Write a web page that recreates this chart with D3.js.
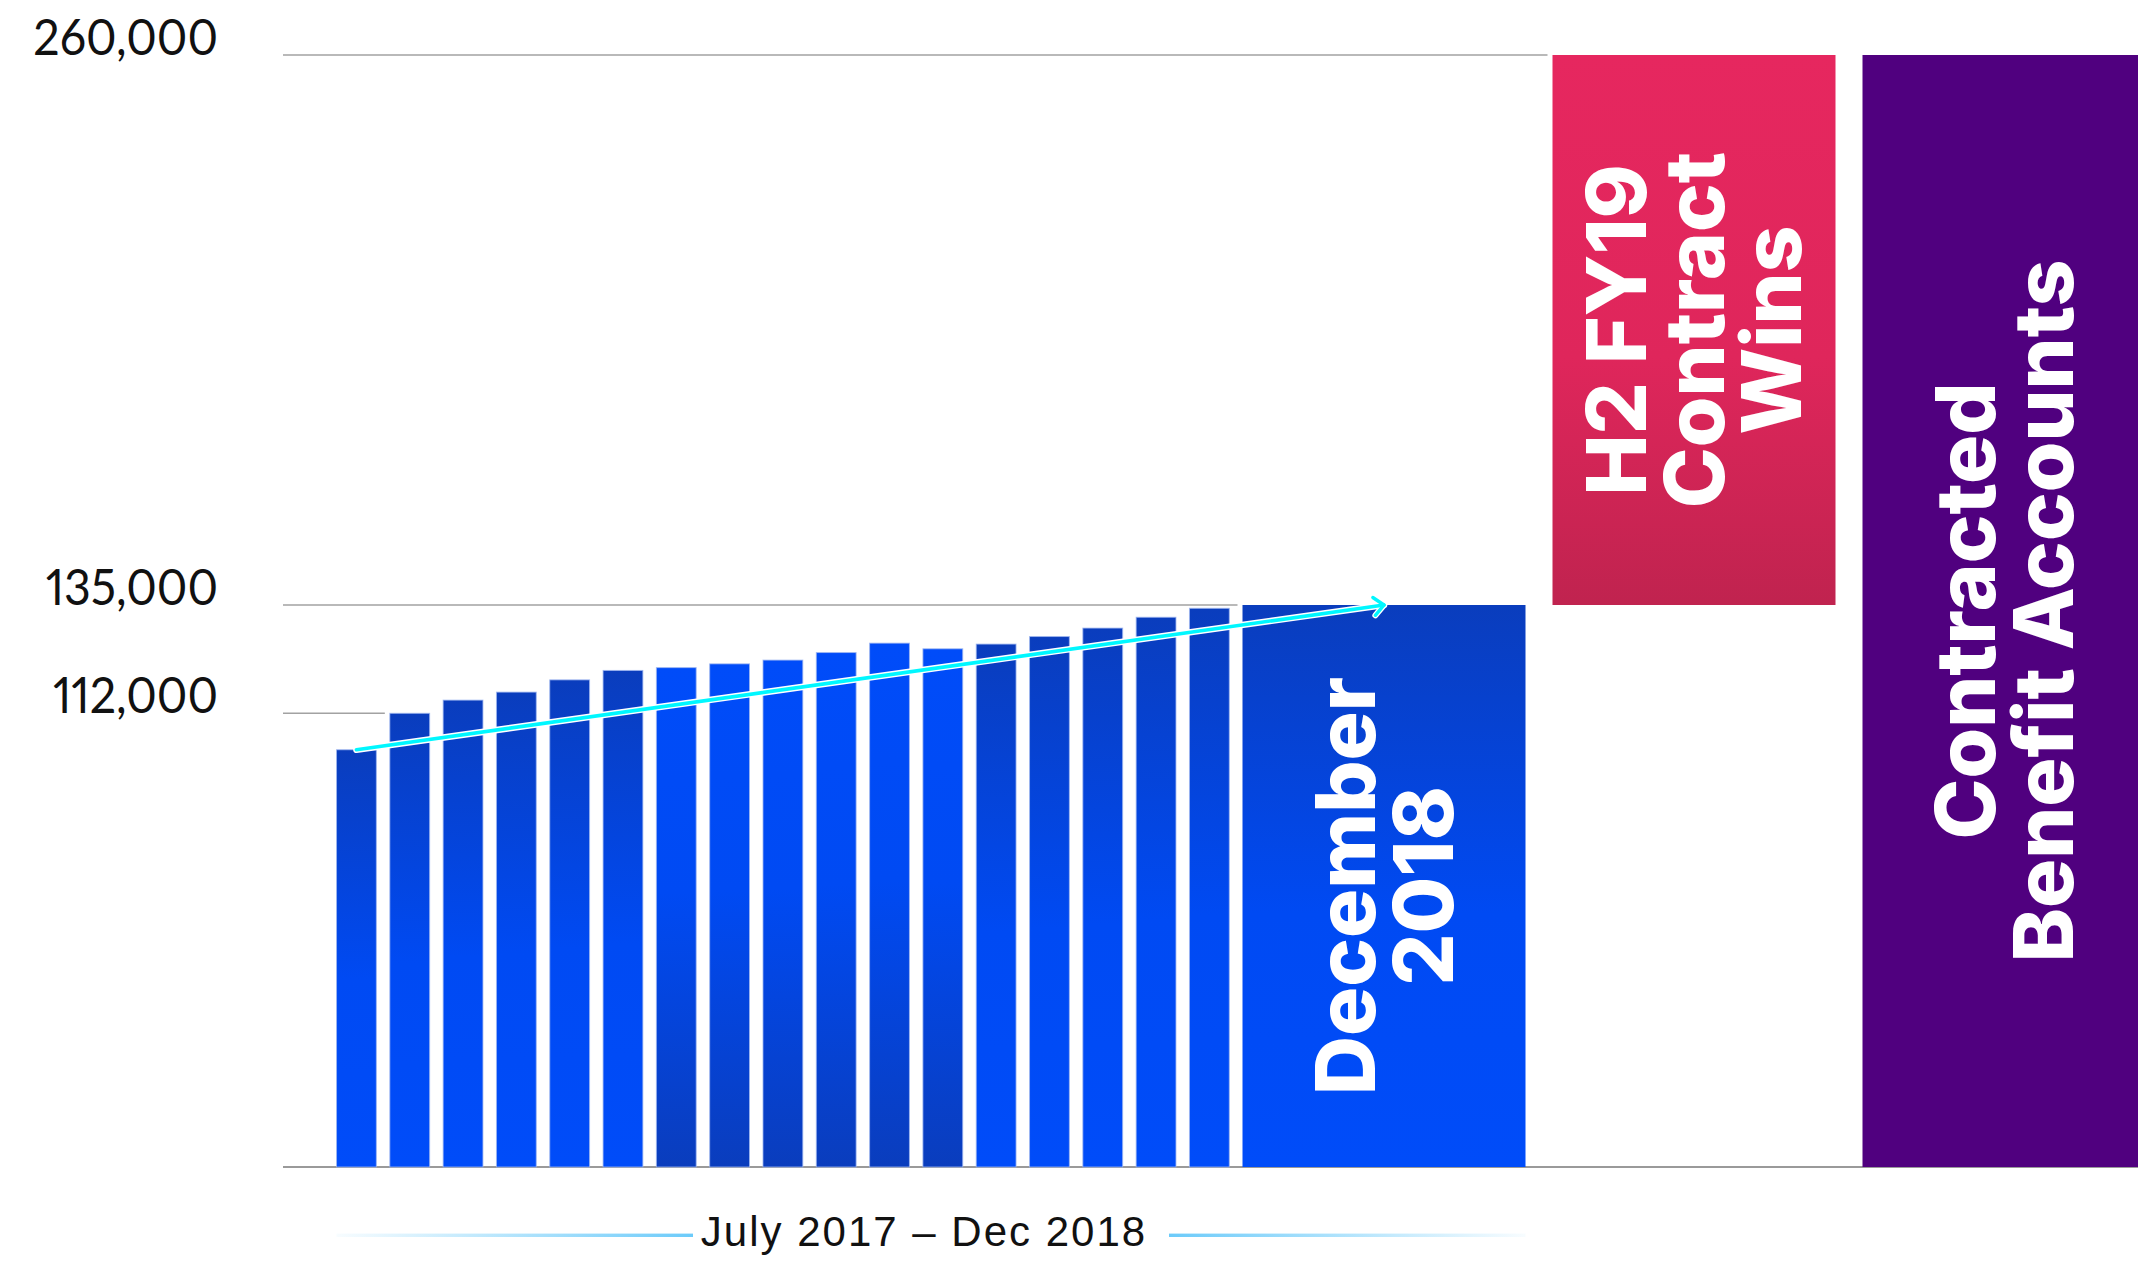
<!DOCTYPE html>
<html>
<head>
<meta charset="utf-8">
<script src="https://cdn.jsdelivr.net/npm/d3@7"></script>
<style>
  html, body { margin: 0; padding: 0; background: #fff; }
  svg { display: block; }
</style>
</head>
<body>
<svg id="chart" width="2138" height="1265"></svg>
<script>
// Monthly benefit accounts, July 2017 – November 2018
const months = ["Jul 2017", "Aug 2017", "Sep 2017", "Oct 2017", "Nov 2017", "Dec 2017",
                "Jan 2018", "Feb 2018", "Mar 2018", "Apr 2018", "May 2018", "Jun 2018",
                "Jul 2018", "Aug 2018", "Sep 2018", "Oct 2018", "Nov 2018"];
const accounts = [103000, 112000, 114800, 116500, 119100, 121100,
                  121700, 122500, 123300, 124900, 126900, 125700,
                  126700, 128300, 130100, 132400, 134300];

// Summary columns: December 2018 level, new contract wins stacked on it, contracted total
const summaryNames = ["December 2018", "H2 FY19 Contract Wins", "Contracted Benefit Accounts"];
const summaryLines = [["December", "2018"], ["H2 FY19", "Contract", "Wins"], ["Contracted", "Benefit Accounts"]];
const december2018 = 135000;
const contractWins = 125000;
const contractedTotal = 260000;

// Axis labels
const tickValues = [260000, 135000, 112000];
const periodLabel = "July 2017 \u2013 Dec 2018";

const W = 2138, H = 1265;
const plotLeft = 283;
const svg = d3.select("#chart");

// The value axis is drawn piecewise so the monthly band is stretched out
const y = d3.scaleLinear()
  .domain([0, 112000, 135000, 260000])
  .range([1167, 713.3, 605, 55]);
const baseY = y(0);

const xMonth = d3.scaleBand()
  .domain(months)
  .range([329.8, 1236])
  .paddingInner(0.253)
  .paddingOuter(0.126);

const xSummary = d3.scaleBand()
  .domain(summaryNames)
  .range([1242.5, 2145.5])
  .paddingInner(0.0871)
  .paddingOuter(0);

// ---------- gradients ----------
const defs = svg.append("defs");
function vGrad(id, stops) {
  const g = defs.append("linearGradient").attr("id", id)
    .attr("x1", 0).attr("y1", 0).attr("x2", 0).attr("y2", 1);
  stops.forEach(s => g.append("stop").attr("offset", s[0]).attr("stop-color", s[1]));
}
vGrad("blueDown", [[0, "#0a3dbd"], [0.55, "#004af3"], [1, "#004cf9"]]);
vGrad("blueUp", [[0, "#004cf9"], [0.45, "#004af3"], [1, "#0a3dbd"]]);
vGrad("pinkFill", [[0, "#e6275f"], [0.55, "#df265b"], [1, "#c0234f"]]);

function hGrad(id, fromOpacity, toOpacity) {
  const g = defs.append("linearGradient").attr("id", id)
    .attr("x1", 0).attr("y1", 0).attr("x2", 1).attr("y2", 0);
  g.append("stop").attr("offset", 0).attr("stop-color", "#6ccbfa").attr("stop-opacity", fromOpacity);
  g.append("stop").attr("offset", 1).attr("stop-color", "#6ccbfa").attr("stop-opacity", toOpacity);
}
hGrad("fadeLeft", 0.05, 1);
hGrad("fadeRight", 1, 0.05);

// arrow head for the trend line
function chevron(id, color, width) {
  const m = defs.append("marker").attr("id", id)
    .attr("markerUnits", "userSpaceOnUse")
    .attr("viewBox", "-20 -20 40 40")
    .attr("markerWidth", 40).attr("markerHeight", 40)
    .attr("refX", 0).attr("refY", 0)
    .attr("orient", "auto")
    .attr("overflow", "visible");
  m.append("path").attr("d", "M-10,-9 L0,0 L-10,9")
    .attr("fill", "none").attr("stroke", color).attr("stroke-width", width)
    .attr("stroke-linecap", "round").attr("stroke-linejoin", "round");
}
chevron("headHalo", "#ffffff", 6);
chevron("headCore", "#00f7ff", 3.4);

// ---------- bar lookup used for grid-line extents ----------
const allBars = months.map((m, i) => ({ x: xMonth(m), top: accounts[i] }))
  .concat([
    { x: xSummary(summaryNames[0]), top: december2018 },
    { x: xSummary(summaryNames[1]), top: december2018 + contractWins },
    { x: xSummary(summaryNames[2]), top: contractedTotal }
  ]);

// ---------- grid lines and tick labels ----------
const grid = svg.append("g");
tickValues.forEach(v => {
  const stop = allBars.find(b => b.top >= v);
  grid.append("line")
    .attr("x1", plotLeft).attr("x2", stop.x - 5)
    .attr("y1", y(v)).attr("y2", y(v))
    .attr("stroke", "#a2a2a2").attr("stroke-width", 1.5);
});
grid.append("line")
  .attr("x1", plotLeft).attr("x2", W)
  .attr("y1", baseY).attr("y2", baseY)
  .attr("stroke", "#9a9a9a").attr("stroke-width", 2);

svg.append("g").selectAll("text")
  .data(tickValues)
  .join("text")
  .attr("transform", d => `translate(218,${y(d)}) scale(0.94,1)`)
  .attr("text-anchor", "end")
  .attr("font-family", "Lato, 'Liberation Sans', sans-serif")
  .attr("font-size", 49.5)
  .attr("fill", "#111")
  .style("font-variant-numeric", "proportional-nums")
  .text(d => d3.format(",")(d));

// ---------- monthly bars ----------
const parseMonth = d3.timeParse("%b %Y");
svg.append("g").selectAll("rect")
  .data(months.map((m, i) => ({ m, v: accounts[i] })))
  .join("rect")
  .attr("x", d => xMonth(d.m))
  .attr("y", d => y(d.v))
  .attr("width", xMonth.bandwidth())
  .attr("height", d => baseY - y(d.v))
  .attr("fill", d => parseMonth(d.m).getMonth() < 6 ? "url(#blueUp)" : "url(#blueDown)")
  .attr("stroke", "#9fb6f0")
  .attr("stroke-opacity", 0.8)
  .attr("stroke-width", 1);

// ---------- summary columns ----------
const bw = xSummary.bandwidth();
const summaryBars = [
  { name: summaryNames[0], lines: summaryLines[0], lo: 0, hi: december2018, fill: "url(#blueDown)" },
  { name: summaryNames[1], lines: summaryLines[1], lo: december2018, hi: december2018 + contractWins, fill: "url(#pinkFill)" },
  { name: summaryNames[2], lines: summaryLines[2], lo: 0, hi: contractedTotal, fill: "#50007f" }
];
svg.append("g").selectAll("rect")
  .data(summaryBars)
  .join("rect")
  .attr("x", d => xSummary(d.name))
  .attr("y", d => y(d.hi))
  .attr("width", bw)
  .attr("height", d => y(d.lo) - y(d.hi))
  .attr("fill", d => d.fill);

// rotated white labels inside the summary columns
const fontSize = 82, lineH = 77.6, capH = fontSize * 0.727;
summaryBars.forEach(d => {
  const cx = xSummary(d.name) + bw / 2;
  const cy = (y(d.lo) + y(d.hi)) / 2;
  const blockH = capH + (d.lines.length - 1) * lineH;
  const t = svg.append("text")
    .attr("transform", `translate(${cx},${cy}) rotate(-90)`)
    .attr("text-anchor", "middle")
    .attr("font-family", "Inter, 'Noto Sans', sans-serif")
    .attr("font-weight", 800)
    .attr("font-size", fontSize)
    .attr("fill", "#fff");
  d.lines.forEach((ln, i) => {
    t.append("tspan")
      .attr("x", 0)
      .attr("y", -blockH / 2 + capH + i * lineH)
      .text(ln);
  });
});

// ---------- trend arrow ----------
const x0 = xMonth(months[0]) + xMonth.bandwidth() / 2;
const y0 = y(accounts[0]);
const x1 = xSummary(summaryNames[0]) + bw / 2;
const y1 = y(december2018);
svg.append("line")
  .attr("x1", x0).attr("y1", y0).attr("x2", x1).attr("y2", y1)
  .attr("stroke", "#ffffff").attr("stroke-width", 6.5).attr("stroke-linecap", "round")
  .attr("marker-end", "url(#headHalo)");
svg.append("line")
  .attr("x1", x0).attr("y1", y0).attr("x2", x1).attr("y2", y1)
  .attr("stroke", "#00f7ff").attr("stroke-width", 3.6).attr("stroke-linecap", "round")
  .attr("marker-end", "url(#headCore)");

// ---------- period caption with fading rules ----------
const spanL = xMonth(months[0]);
const spanR = xSummary(summaryNames[0]) + bw;
const mid = (spanL + spanR) / 2;
const gapHalf = 238;
const ruleY = 1233.6, ruleH = 3.4;
svg.append("rect")
  .attr("x", spanL).attr("y", ruleY).attr("width", mid - gapHalf - spanL).attr("height", ruleH)
  .attr("fill", "url(#fadeLeft)");
svg.append("rect")
  .attr("x", mid + gapHalf).attr("y", ruleY).attr("width", spanR - (mid + gapHalf)).attr("height", ruleH)
  .attr("fill", "url(#fadeRight)");
svg.append("text")
  .attr("x", mid - 7)
  .attr("y", 1246)
  .attr("text-anchor", "middle")
  .attr("font-family", "'Liberation Sans', Arial, sans-serif")
  .attr("font-size", 42)
  .attr("letter-spacing", 2)
  .attr("fill", "#111")
  .text(periodLabel);
</script>
</body>
</html>
